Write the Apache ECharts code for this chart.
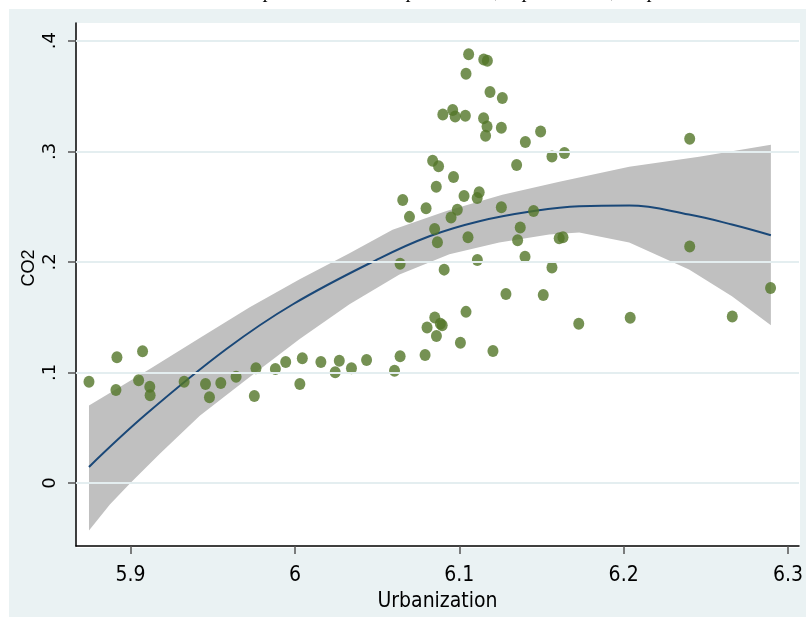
<!DOCTYPE html>
<html><head><meta charset="utf-8">
<script src="https://cdn.jsdelivr.net/npm/echarts@6/dist/echarts.min.js"></script>
<style>html,body{margin:0;padding:0;background:#fff}#c{width:806px;height:617px}</style>
</head><body><div id="c"></div>
<script>
// ---- data ----
const urbanization = [5.8747,5.8917,5.8911,5.9073,5.9049,5.9117,5.9119,5.9326,5.9456,5.9480,5.9549,5.9642,5.9753,5.9763,5.9881,5.9944,6.0045,6.0030,6.0158,6.0270,6.0245,6.0344,
 6.0436,6.0606,6.0640,6.0792,6.0804,6.0851,6.0896,6.0885,6.0861,6.1007,6.1041,6.1205,6.1284,6.1511,6.1727,6.2040,6.2661,6.2894,6.2402,6.2402,
 6.0640,6.0697,6.0656,6.0798,6.0860,6.0965,6.0850,6.0867,6.0950,6.0988,6.1029,6.1121,6.1109,6.0908,6.1053,6.1110,6.1256,6.1371,6.1355,6.1400,6.1452,6.1564,6.1608,6.1631,
 6.1640,6.1564,6.1349,6.1402,6.1495,6.1262,6.1187,6.1149,6.1171,6.1057,6.1041,6.0900,6.0960,6.0975,6.1037,6.1148,6.1169,6.1160,6.1256,6.0838,6.0874];
const co2 = [0.0917,0.1137,0.0842,0.1191,0.0930,0.0872,0.0795,0.0917,0.0896,0.0777,0.0905,0.0962,0.0788,0.1038,0.1032,0.1095,0.1128,0.0896,0.1095,0.1106,0.1002,0.1038,
 0.1113,0.1016,0.1146,0.1158,0.1407,0.1497,0.1428,0.1440,0.1329,0.1268,0.1548,0.1194,0.1710,0.1701,0.1440,0.1494,0.1506,0.1764,0.3113,0.2140,
 0.1984,0.2407,0.2560,0.2486,0.2680,0.2768,0.2297,0.2178,0.2401,0.2471,0.2595,0.2629,0.2578,0.1930,0.2223,0.2016,0.2495,0.2311,0.2196,0.2047,0.2461,0.1950,0.2214,0.2223,
 0.2984,0.2953,0.2877,0.3083,0.3178,0.3482,0.3536,0.3829,0.3818,0.3878,0.3701,0.3333,0.3374,0.3314,0.3322,0.3299,0.3225,0.3140,0.3212,0.2914,0.2865];

const fitX = [5.8747,5.9097,5.9583,5.9988,6.0515,6.0818,6.1122,6.1444,6.1730,6.2034,6.2398,6.2659,6.2896];
const fitY = [0.0146,0.0626,0.1212,0.1617,0.2032,0.2232,0.2368,0.2458,0.2503,0.2509,0.2428,0.2338,0.2241];

const ciUpperX = [5.8747,5.9117,5.9421,5.9725,6.0029,6.0332,6.0594,6.0922,6.1262,6.1609,6.2034,6.2459,6.2896];
const ciUpper  = [0.0701,0.1032,0.1311,0.1590,0.1842,0.2077,0.2290,0.2460,0.2608,0.2725,0.2860,0.2950,0.3059];
const ciLowerX = [5.8747,5.8874,5.8996,5.9178,5.9421,5.9725,6.0029,6.0332,6.0636,6.0940,6.1243,6.1547,6.1730,6.2034,6.2398,6.2659,6.2896];
const ciLower  = [-0.0429,-0.0194,-0.0005,0.0266,0.0608,0.0959,0.1302,0.1617,0.1887,0.2068,0.2176,0.2248,0.2266,0.2176,0.1932,0.1689,0.1428];

const xTicks = [5.9, 6, 6.1, 6.2, 6.3];
const xTickLabels = ['5.9', '6', '6.1', '6.2', '6.3'];
const yTicks = [0, 0.1, 0.2, 0.3, 0.4];
const yTickLabels = ['0', '.1', '.2', '.3', '.4'];

// ---- chart ----
const chart = echarts.init(document.getElementById('c'), null, {renderer: 'canvas'});
const scatterData = urbanization.map((x, i) => [x, co2[i]]);
const fitData = fitX.map((x, i) => [x, fitY[i]]);
const xFont = "'DejaVu Sans Condensed','Liberation Sans Narrow','Arial Narrow',sans-serif";
const titleFont = "italic 20px 'Liberation Serif',serif";

function fmt(vals, labels) {
  return v => { for (let i = 0; i < vals.length; i++) if (Math.abs(vals[i] - v) < 1e-9) return labels[i]; return ''; };
}
function frag(x, t) {
  return {type: 'text', x: x, y: 1.5, silent: true, style: {text: t, font: titleFont, fill: '#000', align: 'center', verticalAlign: 'bottom'}};
}

chart.setOption({
  animation: false,
  backgroundColor: '#ffffff',
  graphic: [
    {type: 'rect', z: -10, shape: {x: 9, y: 9, width: 797, height: 608}, style: {fill: '#eaf2f3'}, silent: true},
    {type: 'rect', z: -9, shape: {x: 76, y: 23, width: 724, height: 525}, style: {fill: '#ffffff'}, silent: true},
    {type: 'text', x: 29, y: 268, rotation: Math.PI / 2, silent: true,
      style: {text: 'CO2', font: "18px 'Liberation Sans',Arial,sans-serif", fill: '#000', align: 'center', verticalAlign: 'middle'}},
    frag(269, 'p'), frag(412, 'p'), frag(497, ','), frag(528, 'p'), frag(613, ','), frag(653, 'p')
  ],
  grid: {left: 76, top: 23, right: 6, bottom: 69, show: false, containLabel: false},
  xAxis: {
    type: 'value', min: 5.8668, max: 6.3067,
    axisLine: {show: true, onZero: false, lineStyle: {color: '#000', width: 1.5}},
    axisTick: {show: true, length: 8, customValues: xTicks, lineStyle: {color: '#555', width: 1.5}},
    axisLabel: {show: true, customValues: xTicks, formatter: fmt(xTicks, xTickLabels), margin: 19,
      fontFamily: xFont, fontSize: 21, color: '#000'},
    splitLine: {show: false},
    name: 'Urbanization', nameLocation: 'middle', nameGap: 45,
    nameTextStyle: {fontFamily: xFont, fontSize: 21, color: '#000'}
  },
  yAxis: {
    type: 'value', min: -0.0569, max: 0.416,
    axisLine: {show: true, onZero: false, lineStyle: {color: '#000', width: 1.5}},
    axisTick: {show: true, length: 8, customValues: yTicks, lineStyle: {color: '#555', width: 1.5}},
    axisLabel: {show: true, customValues: yTicks, formatter: fmt(yTicks, yTickLabels), rotate: 90, margin: 17,
      fontFamily: "'DejaVu Sans',sans-serif", fontSize: 18, color: '#000'},
    splitLine: {show: false}
  },
  series: [
    {
      type: 'scatter', data: [], z: 1, silent: true,
      markLine: {
        silent: true, symbol: ['none', 'none'], label: {show: false}, animation: false,
        lineStyle: {color: '#e4eef0', width: 2, type: 'solid'},
        data: yTicks.map(v => ({yAxis: v}))
      }
    },
    {
      type: 'custom', z: 2, silent: true, clip: true,
      data: [[ciUpperX[0], ciUpper[0]]],
      encode: {x: 0, y: 1},
      renderItem: (params, api) => {
        const pts = [];
        for (let i = 0; i < ciUpperX.length; i++) pts.push(api.coord([ciUpperX[i], ciUpper[i]]));
        for (let i = ciLowerX.length - 1; i >= 0; i--) pts.push(api.coord([ciLowerX[i], ciLower[i]]));
        return {type: 'polygon', shape: {points: pts}, style: {fill: '#c0c0c0'}};
      }
    },
    {
      type: 'line', z: 3, data: fitData, smooth: 0.4, showSymbol: false, silent: true,
      lineStyle: {color: '#1a4878', width: 2}
    },
    {
      type: 'scatter', z: 4, data: scatterData, symbol: 'circle', symbolSize: [11, 12],
      itemStyle: {color: '#537628'}
    }
  ]
});
</script>
</body></html>
